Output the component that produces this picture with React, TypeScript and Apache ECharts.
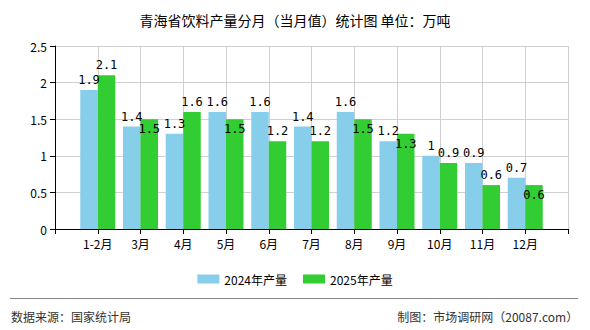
import React, { useEffect, useRef } from "react";
import * as echarts from "echarts";

const categories = ["", "1-2月", "3月", "4月", "5月", "6月", "7月", "8月", "9月", "10月", "11月", "12月", ""];
const values2024 = [null, 1.9, 1.4, 1.3, 1.6, 1.6, 1.4, 1.6, 1.2, 1.0, 0.9, 0.7, null];
const values2025 = [null, 2.1, 1.5, 1.6, 1.5, 1.2, 1.2, 1.5, 1.3, 0.9, 0.6, 0.6, null];
const labelPos2024 = ["top", "top", "top", "top", "top", "top", "top", "top", "top", "top", "top", "top", "top"];
const labelPos2025 = ["top", "top", "insideTop", "top", "insideTop", "top", "top", "insideTop", "insideTop", "top", "top", "insideTop", "top"];
const seriesNames = ["2024年产量", "2025年产量"];
const colors = ["#87CEEB", "#32CD32"];

const FONT = "'Noto Sans CJK SC', sans-serif";

function mk(values: (number | null)[], pos: string[]) {
  return values.map((v, i) =>
    v === null ? null : { value: v, label: { position: pos[i] } }
  );
}

export default function App() {
  const ref = useRef<HTMLDivElement>(null);
  useEffect(() => {
    const chart = echarts.init(ref.current!, null, { renderer: "svg" });
    const labelCfg = {
      show: true,
      color: "#000",
      fontSize: 12,
      fontFamily: "'DejaVu Sans Mono', monospace",
      distance: 4,
    };
    chart.setOption({
      animation: false,
      backgroundColor: "#fff",
      title: {
        text: "青海省饮料产量分月（当月值）统计图 单位：万吨",
        left: "center",
        top: 8,
        textStyle: { fontSize: 14, fontWeight: "normal", color: "#000", fontFamily: FONT },
      },
      legend: {
        top: 268,
        left: "center",
        itemWidth: 22,
        itemHeight: 9,
        itemGap: 16,
        data: seriesNames,
        textStyle: { fontSize: 12, color: "#000", fontFamily: FONT },
        icon: "rect",
      },
      grid: { left: 55, right: 22, top: 46, bottom: 101 },
      xAxis: {
        type: "category",
        data: categories,
        boundaryGap: false,
        axisLine: { lineStyle: { color: "#000" } },
        axisTick: { show: true, alignWithLabel: true, length: 5, lineStyle: { color: "#000" } },
        axisLabel: { color: "#000", fontSize: 12, fontFamily: FONT, interval: 0, margin: 8 },
        splitLine: { show: true, lineStyle: { color: "#d0d0d0" } },
      },
      yAxis: {
        type: "value",
        min: 0,
        max: 2.5,
        interval: 0.5,
        axisLine: { show: true, lineStyle: { color: "#000" } },
        axisTick: { show: true, length: 5, lineStyle: { color: "#000" } },
        axisLabel: { color: "#000", fontSize: 12, fontFamily: FONT, margin: 8 },
        splitLine: { show: true, lineStyle: { color: "#d0d0d0" } },
      },
      series: [
        {
          name: seriesNames[0],
          type: "bar",
          data: mk(values2024, labelPos2024),
          barWidth: 17.5,
          barGap: "0%",
          itemStyle: { color: colors[0] },
          label: labelCfg,
        },
        {
          name: seriesNames[1],
          type: "bar",
          data: mk(values2025, labelPos2025),
          barWidth: 17.5,
          barGap: "0%",
          itemStyle: { color: colors[1] },
          label: labelCfg,
        },
      ],
      graphic: [
        {
          type: "line",
          shape: { x1: 10, y1: 298.5, x2: 578, y2: 298.5 },
          style: { stroke: "#888", lineWidth: 1 },
        },
        {
          type: "text",
          left: 11,
          top: 310,
          style: { text: "数据来源：国家统计局", fill: "#333", font: "12px " + FONT },
        },
        {
          type: "text",
          right: 12,
          top: 310,
          style: { text: "制图：市场调研网（20087.com）", fill: "#333", font: "12px " + FONT },
        },
      ],
    });
    return () => chart.dispose();
  }, []);
  return <div ref={ref} style={{ width: 590, height: 330, position: "absolute", left: 0, top: 0 }} />;
}
